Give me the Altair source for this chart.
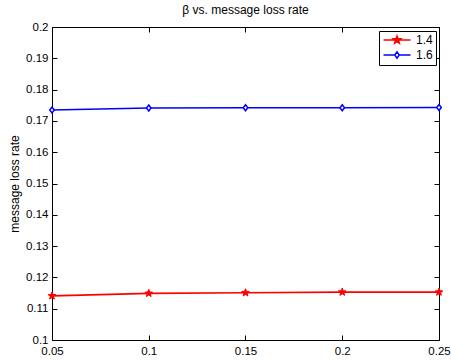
import math
import altair as alt
import pandas as pd

# ---- data ----
beta = [0.05, 0.10, 0.15, 0.20, 0.25]
series_names = ["1.4", "1.6"]
loss_14 = [0.1141, 0.1149, 0.1151, 0.1153, 0.1153]
loss_16 = [0.1735, 0.1741, 0.1742, 0.1742, 0.1743]
x_ticks = [0.05, 0.10, 0.15, 0.20, 0.25]
y_ticks = [0.10, 0.11, 0.12, 0.13, 0.14, 0.15, 0.16, 0.17, 0.18, 0.19, 0.20]
title_text = "\u03b2 vs. message loss rate"
y_title = "message loss rate"

rows = []
for b, v in zip(beta, loss_14):
    rows.append({"beta": b, "loss": v, "series": series_names[0]})
for b, v in zip(beta, loss_16):
    rows.append({"beta": b, "loss": v, "series": series_names[1]})
df = pd.DataFrame(rows)

# ---- styles ----
RED = "#ff0000"
BLUE = "#0000ff"
FONT = "Liberation Sans"
W, H = 387, 313


def star_path(r_out=1.0, r_in=0.42):
    pts = []
    for k in range(10):
        ang = math.radians(-90 + 36 * k)
        r = r_out if k % 2 == 0 else r_in
        pts.append((r * math.cos(ang), r * math.sin(ang)))
    return "M" + "L".join(f"{x:.3f},{y:.3f}" for x, y in pts) + "Z"


def diamond_path(h=1.0, w=0.75):
    return f"M0,{-h}L{w},0L0,{h}L{-w},0Z"


star_plot = star_path()
diamond_plot = diamond_path()
# legend symbols: line through the marker; the star is "filled" by nested outlines
legend_star = "M-2.7,0L2.7,0" + "".join(star_path(r, r * 0.42) for r in (0.8, 0.6, 0.4, 0.2))
legend_diamond = "M-2.7,0L-0.45,0M0.45,0L2.7,0" + diamond_path(0.62, 0.45)

xscale = alt.Scale(domain=[0.05, 0.25], nice=False, zero=False)
yscale = alt.Scale(domain=[0.1, 0.2], nice=False, zero=False)

tick_in = alt.ExprRef("-5")

x_bottom = alt.Axis(orient="bottom", values=x_ticks, format=".2~f", title=None,
                    grid=False, domain=False, tickSize=tick_in, tickColor="black",
                    tickWidth=1, labelPadding=10, labelFont=FONT, labelFontSize=11.5,
                    labelColor="black", labelFlush=False, labelOverlap=False)
y_left = alt.Axis(orient="left", values=y_ticks, format=".2~f", title=y_title,
                  grid=False, domain=False, tickSize=tick_in, tickColor="black",
                  tickWidth=1, labelPadding=9, labelFont=FONT, labelFontSize=11.5,
                  labelColor="black", labelFlush=False, labelOverlap=False,
                  titleFont=FONT, titleFontSize=12,
                  titleFontWeight="normal", titleColor="black", titleAngle=270,
                  titleX=-38, titleY=H / 2, titleAlign="center", titleBaseline="middle")
x_top = alt.Axis(orient="top", values=x_ticks, title=None, labels=False, grid=False,
                 domain=False, tickSize=tick_in, tickColor="black", tickWidth=1)
y_right = alt.Axis(orient="right", values=y_ticks, title=None, labels=False, grid=False,
                   domain=False, tickSize=tick_in, tickColor="black", tickWidth=1)

legend_props = dict(
    title=None, orient="none", legendX=327, legendY=4, padding=3,
    strokeColor="black", fillColor="white", cornerRadius=0,
    labelFont=FONT, labelFontSize=12, labelColor="black",
    symbolSize=100, symbolStrokeWidth=1.5, symbolOffset=9, labelOffset=13,
    rowPadding=1, symbolOpacity=1,
)

base = alt.Chart(df)
red_data = base.transform_filter(alt.datum.series == series_names[0])
blue_data = base.transform_filter(alt.datum.series == series_names[1])

red_line = red_data.mark_line(strokeWidth=1.6, color=RED).encode(
    x=alt.X("beta:Q", scale=xscale, axis=x_bottom),
    y=alt.Y("loss:Q", scale=yscale, axis=y_left),
)

blue_line = blue_data.mark_line(strokeWidth=1.6, color=BLUE).encode(
    x=alt.X("beta:Q", scale=xscale, axis=None),
    y=alt.Y("loss:Q", scale=yscale, axis=None),
)

red_pts = red_data.mark_point(
    shape=star_plot, size=64, filled=True, color=RED, stroke=RED, strokeWidth=1, opacity=1
).encode(
    x=alt.X("beta:Q", scale=xscale, axis=x_top),
    y=alt.Y("loss:Q", scale=yscale, axis=y_right),
)

blue_pts = blue_data.mark_point(
    shape=diamond_plot, size=36, filled=False, fill="white", stroke=BLUE,
    strokeWidth=1.5, opacity=1
).encode(
    x=alt.X("beta:Q", scale=xscale, axis=None),
    y=alt.Y("loss:Q", scale=yscale, axis=None),
)

# invisible layer that only carries the legend (line + marker symbols)
legend_layer = base.mark_point(strokeWidth=1.5, opacity=0, filled=False).encode(
    x=alt.X("beta:Q", scale=xscale, axis=None),
    y=alt.Y("loss:Q", scale=yscale, axis=None),
    color=alt.Color("series:N", scale=alt.Scale(domain=series_names, range=[RED, BLUE]),
                    legend=alt.Legend(**legend_props)),
    shape=alt.Shape("series:N", scale=alt.Scale(domain=series_names,
                                                range=[legend_star, legend_diamond]),
                    legend=alt.Legend(**legend_props)),
)

chart = alt.layer(red_line, blue_line, red_pts, blue_pts, legend_layer).resolve_axis(
    x="independent", y="independent"
).properties(
    width=W,
    height=H,
    autosize=alt.AutoSizeParams(type="none"),
    padding={"left": 52, "top": 27, "right": 12, "bottom": 20},
    title=alt.TitleParams(text=title_text, font=FONT, fontSize=12, fontWeight="normal",
                          color="black", anchor="middle", baseline="alphabetic",
                          offset=10, frame="group", dy=15),
    background="white",
).configure_view(
    stroke="black", strokeWidth=1
)

chart.save("out.html", embed_options={"renderer": "svg", "actions": False})
